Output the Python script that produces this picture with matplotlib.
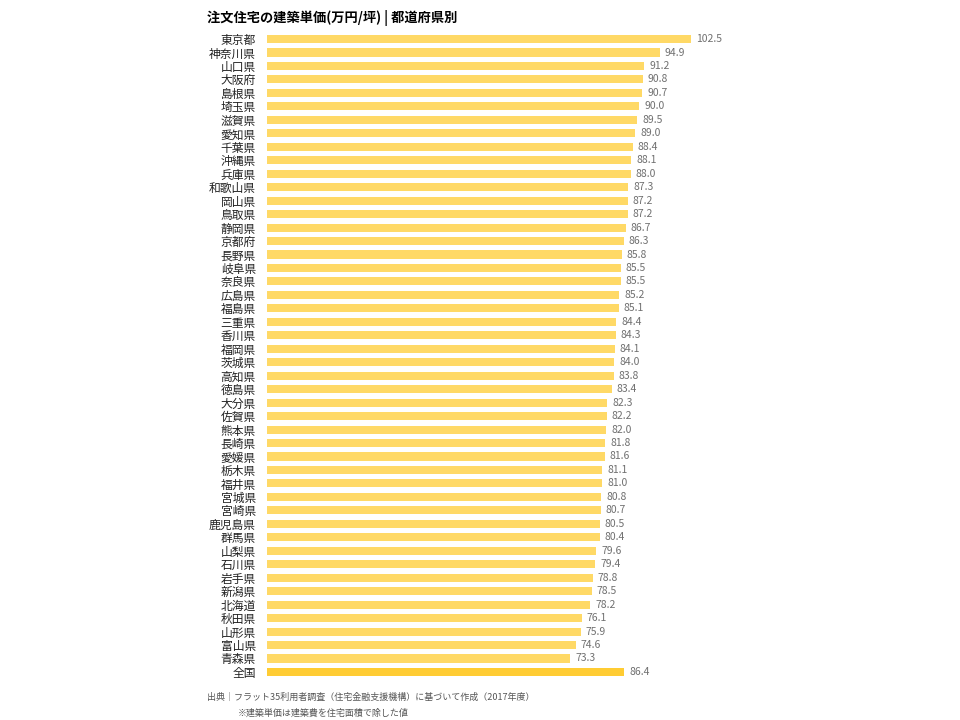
import numpy as np
import matplotlib.pyplot as plt

plt.rcParams['font.family'] = ['Noto Sans CJK JP', 'DejaVu Sans']

# 都道府県別 注文住宅の建築単価（万円/坪）
prefectures = ['東京都', '神奈川県', '山口県', '大阪府', '島根県', '埼玉県', '滋賀県', '愛知県',
               '千葉県', '沖縄県', '兵庫県', '和歌山県', '岡山県', '鳥取県', '静岡県', '京都府',
               '長野県', '岐阜県', '奈良県', '広島県', '福島県', '三重県', '香川県', '福岡県',
               '茨城県', '高知県', '徳島県', '大分県', '佐賀県', '熊本県', '長崎県', '愛媛県',
               '栃木県', '福井県', '宮城県', '宮崎県', '鹿児島県', '群馬県', '山梨県', '石川県',
               '岩手県', '新潟県', '北海道', '秋田県', '山形県', '富山県', '青森県', '全国']
prices = [102.5, 94.9, 91.2, 90.8, 90.7, 90.0, 89.5, 89.0,
          88.4, 88.1, 88.0, 87.3, 87.2, 87.2, 86.7, 86.3,
          85.8, 85.5, 85.5, 85.2, 85.1, 84.4, 84.3, 84.1,
          84.0, 83.8, 83.4, 82.3, 82.2, 82.0, 81.8, 81.6,
          81.1, 81.0, 80.8, 80.7, 80.5, 80.4, 79.6, 79.4,
          78.8, 78.5, 78.2, 76.1, 75.9, 74.6, 73.3, 86.4]

title = '注文住宅の建築単価(万円/坪) | 都道府県別'
source = '出典｜フラット35利用者調査（住宅金融支援機構）に基づいて作成（2017年度）'
note = '※建築単価は建築費を住宅面積で除した値'

fig = plt.figure(figsize=(9.6, 7.2), dpi=100)
ax = fig.add_axes([267 / 960, 0.0574, 455 / 960, 0.8977])

y = np.arange(len(prefectures))
colors = ['#FFD966'] * (len(prefectures) - 1) + ['#FFCC33']
ax.barh(y, prices, height=0.6, color=colors)

for yi, v in zip(y, prices):
    ax.text(v + 1.2, yi, f'{v:.1f}', va='center', ha='left', fontsize=7.5, color='#707070')

ax.set_xlim(0, 110)
ax.set_ylim(len(prefectures) - 0.5, -0.5)
ax.set_yticks(y)
ax.set_yticklabels(prefectures, fontsize=8.5, color='#222222')
ax.tick_params(axis='y', length=0, pad=8)
ax.set_xticks([])
for s in ax.spines.values():
    s.set_visible(False)

fig.text(207 / 960, 1 - 18 / 720, title, fontsize=9.5, fontweight='bold', va='center', ha='left')
fig.text(207 / 960, 1 - 697 / 720, source, fontsize=6.5, color='#555555', va='center', ha='left')
fig.text(238 / 960, 1 - 713 / 720, note, fontsize=6.5, color='#555555', va='center', ha='left')

fig.savefig('out.png', dpi=100)
